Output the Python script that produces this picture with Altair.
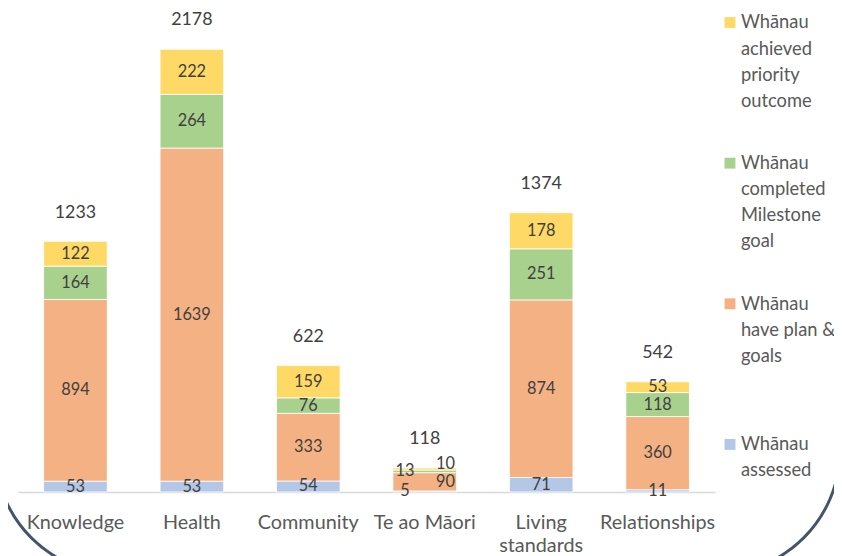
import altair as alt
import pandas as pd

categories = ["Knowledge", "Health", "Community", "Te ao Māori", "Living standards", "Relationships"]
series_names = [
    "Whānau assessed",
    "Whānau have plan & goals",
    "Whānau completed Milestone goal",
    "Whānau achieved priority outcome",
]
legend_texts = [
    "Whānau\nassessed",
    "Whānau\nhave plan &\ngoals",
    "Whānau\ncompleted\nMilestone\ngoal",
    "Whānau\nachieved\npriority\noutcome",
]
assessed = [53, 53, 54, 5, 71, 11]
plan_goals = [894, 1639, 333, 90, 874, 360]
milestone = [164, 264, 76, 13, 251, 118]
achieved = [122, 222, 159, 10, 178, 53]
totals = [1233, 2178, 622, 118, 1374, 542]
colors = ["#B4C7E7", "#F4B183", "#A9D18E", "#FFD966"]

series_values = [assessed, plan_goals, milestone, achieved]
rows = []
for si, (name, vals) in enumerate(zip(series_names, series_values)):
    for cat, v in zip(categories, vals):
        rows.append({"category": cat, "series": name, "value": v, "idx": si})
df = pd.DataFrame(rows)
tot_df = pd.DataFrame({"category": categories, "total": totals})
leg_df = pd.DataFrame({"series": series_names, "label": legend_texts})

FONT = "Lato"
YMAX = 2368
xenc = alt.X(
    "category:N",
    sort=categories,
    scale=alt.Scale(paddingInner=0.454, paddingOuter=0.221),
    axis=alt.Axis(
        title=None, labelAngle=0, ticks=False, domainColor="#D9D9D9", domainWidth=1.5,
        labelFont=FONT, labelFontSize=20, labelColor="#595959", labelPadding=21,
        labelLineHeight=23.5, labelLimit=300, labelBaseline="top",
        labelExpr="datum.value == 'Living standards' ? ['Living', 'standards'] : datum.value",
    ),
)
yscale = alt.Scale(domain=[0, YMAX], nice=False, zero=True)
cscale = alt.Scale(domain=series_names, range=colors)

base = alt.Chart(df).transform_stack(
    stack="value", groupby=["category"], sort=[alt.SortField("idx", order="ascending")], as_=["y0", "y1"]
).transform_calculate(mid="(datum.y0 + datum.y1) / 2")

bars = base.mark_bar(stroke="white", strokeWidth=0.8).encode(
    x=xenc,
    y=alt.Y("y0:Q", scale=yscale, axis=None),
    y2="y1:Q",
    color=alt.Color("series:N", scale=cscale, legend=None),
)

txt_style = dict(font=FONT, fontSize=16.5, color="#404040", baseline="middle")
labels_main = base.transform_filter("datum.category != 'Te ao Māori'").mark_text(**txt_style).encode(
    x=xenc, y=alt.Y("mid:Q", scale=yscale, axis=None), text="value:Q"
)
labels_left = base.transform_filter(
    "datum.category == 'Te ao Māori' && (datum.idx == 0 || datum.idx == 2)"
).mark_text(dx=-20, **txt_style).encode(
    x=xenc, y=alt.Y("mid:Q", scale=yscale, axis=None), text="value:Q"
)
labels_r1 = base.transform_filter(
    "datum.category == 'Te ao Māori' && datum.idx == 1"
).mark_text(dx=21, **txt_style).encode(
    x=xenc, y=alt.Y("mid:Q", scale=yscale, axis=None), text="value:Q"
)
labels_r2 = base.transform_filter(
    "datum.category == 'Te ao Māori' && datum.idx == 3"
).mark_text(dx=21, dy=-5, **txt_style).encode(
    x=xenc, y=alt.Y("mid:Q", scale=yscale, axis=None), text="value:Q"
)

tot_labels = alt.Chart(tot_df).mark_text(
    font=FONT, fontSize=18, color="#404040", baseline="middle", dy=-29
).encode(x=xenc, y=alt.Y("total:Q", scale=yscale, axis=None), text="total:Q")

main = alt.layer(bars, labels_main, labels_left, labels_r1, labels_r2, tot_labels)

leg_order = list(reversed(series_names))
legy = alt.Y("series:N", sort=leg_order, scale=alt.Scale(domain=leg_order, range=[12, 438], padding=0), axis=None)
leg_sq = alt.Chart(leg_df).mark_square(size=121, opacity=1, filled=True).encode(
    x=alt.value(719), y=legy, color=alt.Color("series:N", scale=cscale, legend=None)
)
leg_tx = alt.Chart(leg_df).mark_text(
    align="left", baseline="alphabetic", dy=6, lineBreak="\n", lineHeight=26.3,
    font=FONT, fontSize=18.5, color="#595959",
).encode(x=alt.value(730), y=legy, text="label:N")
legend = alt.layer(leg_sq, leg_tx)

frame = alt.Chart(pd.DataFrame({"k": [0]})).mark_rect(
    fillOpacity=0, stroke="#44546A", strokeWidth=3,
    cornerRadiusBottomLeft=125, cornerRadiusBottomRight=125,
).encode(x=alt.value(-23), x2=alt.value(830), y=alt.value(-200), y2=alt.value(569))

chart = alt.layer(main, legend, frame).resolve_scale(y="independent").properties(
    width=704, height=486,
    autosize=alt.AutoSizeParams(type="none"),
    padding={"left": 10, "top": 0, "right": 120, "bottom": 62},
    background="white",
).configure_view(stroke=None)

chart.save("out.html", embed_options={"renderer": "svg", "actions": False})
